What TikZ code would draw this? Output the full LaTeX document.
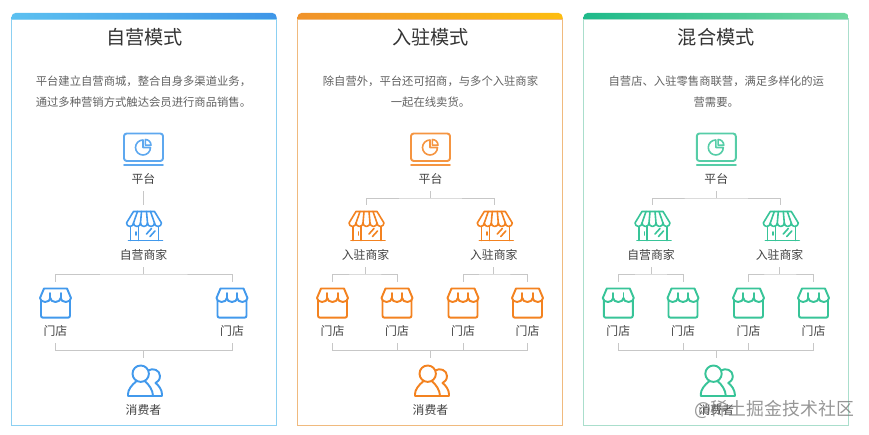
\documentclass[tikz,border=0pt]{standalone}
\usepackage{fontspec}
\setmainfont{Noto Sans CJK SC}
\usepackage{xcolor}
\usepackage{tikz}
\definecolor{csblue}{RGB}{66,153,236}
\definecolor{csorange}{RGB}{243,130,32}
\definecolor{csgreen}{RGB}{56,196,152}
\definecolor{edgeblue}{RGB}{140,208,242}
\definecolor{edgeorange}{RGB}{240,186,126}
\definecolor{edgegreen}{RGB}{170,222,204}
\definecolor{barblueL}{RGB}{92,192,240}
\definecolor{barblueR}{RGB}{62,150,232}
\definecolor{barorangeL}{RGB}{240,146,42}
\definecolor{barorangeR}{RGB}{253,189,16}
\definecolor{bargreenL}{RGB}{31,186,138}
\definecolor{bargreenR}{RGB}{112,216,160}
\tikzset{
  icon/.style={draw=#1, line width=1.2pt, line join=round, line cap=round},
  iconb/.style={draw=#1, line width=1.45pt, line join=round, line cap=round},
  link/.style={draw=black!22, line width=0.7pt},
  headline/.style={font=\fontsize{14.4}{16}\selectfont, text=black!80, inner sep=0pt},
  blurb/.style={font=\fontsize{8.5}{15.75}\selectfont, text=black!62, align=center, inner sep=0pt},
  lbl/.style={font=\fontsize{8.9}{10}\selectfont, text=black!75, inner sep=0pt, minimum height=18pt},
  pics/platicon/.style={code={
    \draw[iconb=#1, opacity=.85, rounded corners=2pt] (-19.5,-12) rectangle (19.5,15.5);
    \draw[iconb=#1, opacity=.85] (-19.5,-16) -- (19.5,-16);
    \draw[icon=#1, opacity=.85] (-0.5,1.5) -- (-0.5,9) arc (90:360:7.5) -- cycle;
    \draw[icon=#1, opacity=.85] (1.8,3.8) -- (1.8,9.5) arc (90:0:5.7) -- cycle;
  }},
  pics/shopicon/.style={code={
    \coordinate (-top) at (0,21);
    \draw[icon=#1] (-10,14.5) -- (11,14.5) -- (18,3) arc (360:180:3.5) arc (360:180:3.5) arc (360:180:3.5) arc (360:180:3.5) arc (360:180:3.5) -- cycle;
    \draw[icon=#1] (-6,14.5) -- (-10,3) (-2,14.5) -- (-3,3) (3,14.5) -- (4,3) (7,14.5) -- (11,3);
    \draw[icon=#1] (-13,-1) -- (-13,-14.5) (15,-1) -- (15,-14.5) (-15,-14.5) -- (19,-14.5);
    \draw[icon=#1] (-5,0) -- (-5,-14.5) (-7.5,-6) -- (-7.5,-9);
    \draw[icon=#1] (3,-8) -- (8,-2.5) (6.5,-10.5) -- (11.5,-5);
  }},
  pics/storeicon/.style={code={
    \coordinate (-top) at (0,21);
    \draw[iconb=#1] (-15.5,5) -- (-11.5,14.5) -- (11.5,14.5) -- (15.5,5) arc (360:180:5.17 and 4) arc (360:180:5.17 and 4) arc (360:180:5.17 and 4);
    \draw[iconb=#1] (-5.2,5) -- (-5.2,10) (5.2,5) -- (5.2,10);
    \draw[iconb=#1, rounded corners=1.5pt] (-14.5,3) -- (-14.5,-14.7) -- (14.5,-14.7) -- (14.5,3);
  }},
  pics/peopleicon/.style={code={
    \coordinate (-top) at (0,22.7);
    \draw[iconb=#1] (-2.8,7.3) circle (8.2);
    \draw[iconb=#1] (-6.8,0) .. controls (-12,-4) and (-15.5,-9) .. (-15.5,-13) -- (-15.5,-15) -- (9.5,-15) .. controls (9.5,-9) and (5,-3) .. (1.2,0);
    \draw[iconb=#1] (4.8,10.5) .. controls (9,13.5) and (16.5,11) .. (16.5,5) .. controls (16.5,1) and (14,-1) .. (12,-2) .. controls (15,-4) and (18.5,-9) .. (18.5,-13) -- (18.5,-15) -- (9.5,-15);
  }},
}
\begin{document}
\begin{tikzpicture}[x=0.75pt,y=0.75pt]
  \useasboundingbox (0,0) rectangle (869,435);
  % cards
  \draw[edgeblue, line width=.8pt] (11.5,9.5) rectangle (276.5,416);
  \shade[left color=barblueL, right color=barblueR] (11.5,416) [rounded corners=3pt] -- (11.5,422) -- (276.5,422) [sharp corners] -- (276.5,416) -- cycle;
  \draw[edgeorange, line width=.8pt] (297.5,9.5) rectangle (562.5,416);
  \shade[left color=barorangeL, right color=barorangeR] (297.5,416) [rounded corners=3pt] -- (297.5,422) -- (562.5,422) [sharp corners] -- (562.5,416) -- cycle;
  \draw[edgegreen, line width=.8pt] (583.5,9.5) rectangle (848.5,416);
  \shade[left color=bargreenL, right color=bargreenR] (583.5,416) [rounded corners=3pt] -- (583.5,422) -- (848.5,422) [sharp corners] -- (848.5,416) -- cycle;
  % self-run
  \node[headline] (titleA) at (144.5,398) {自营模式};
  \node[blurb] (textA) at (143.5,343.5) {平台建立自营商城，整合自身多渠道业务，\\通过多种营销方式触达会员进行商品销售。};
  \pic (platA) at (143.5,286) {platicon=csblue};
  \node[lbl] (lblPlatA) at (143.5,256) {平台};
  \pic (shopA) at (143.5,209) {shopicon=csblue};
  \node[lbl] (lblShopA) at (143.5,180) {自营商家};
  \pic (storeA1) at (55.5,132) {storeicon=csblue};
  \node[lbl] (lblStoreA1) at (55.5,104) {门店};
  \pic (storeA2) at (232,132) {storeicon=csblue};
  \node[lbl] (lblStoreA2) at (232,104) {门店};
  \pic (peopleA) at (143.5,54) {peopleicon=csblue};
  \node[lbl] (lblPeopleA) at (143.5,25) {消费者};
  \coordinate (barA1) at (143.5,161);
  \coordinate (barA2) at (143.5,84.7);
  \draw[link] (lblPlatA.south) -- (shopA-top);
  \draw[link] (lblShopA.south) -- (barA1);
  \draw[link] (storeA1-top) |- (barA1) -| (storeA2-top);
  \draw[link] (lblStoreA1.south) |- (barA2) -| (lblStoreA2.south);
  \draw[link] (barA2) -- (peopleA-top);
  % tenant
  \node[headline] (titleB) at (430.5,398) {入驻模式};
  \node[blurb] (textB) at (430.5,343.5) {除自营外，平台还可招商，与多个入驻商家\\一起在线卖货。};
  \pic (platB) at (430.5,286) {platicon=csorange};
  \node[lbl] (lblPlatB) at (430.5,256) {平台};
  \pic (shopB1) at (366,209) {shopicon=csorange};
  \node[lbl] (lblShopB1) at (365.5,180) {入驻商家};
  \pic (shopB2) at (494.3,209) {shopicon=csorange};
  \node[lbl] (lblShopB2) at (493.8,180) {入驻商家};
  \pic (storeB1) at (332.5,132) {storeicon=csorange};
  \node[lbl] (lblStoreB1) at (332.5,104) {门店};
  \pic (storeB2) at (397,132) {storeicon=csorange};
  \node[lbl] (lblStoreB2) at (397,104) {门店};
  \pic (storeB3) at (463,132) {storeicon=csorange};
  \node[lbl] (lblStoreB3) at (463,104) {门店};
  \pic (storeB4) at (527.5,132) {storeicon=csorange};
  \node[lbl] (lblStoreB4) at (527.5,104) {门店};
  \pic (peopleB) at (430.5,54) {peopleicon=csorange};
  \node[lbl] (lblPeopleB) at (430.5,25) {消费者};
  \coordinate (barB0) at (430.5,237);
  \coordinate (barB1) at (365.5,161);
  \coordinate (barB2) at (493.8,161);
  \coordinate (barB3) at (430.5,84.7);
  \draw[link] (lblPlatB.south) -- (barB0);
  \draw[link] (shopB1-top) |- (barB0) -| (shopB2-top);
  \draw[link] (lblShopB1.south) -- (barB1);
  \draw[link] (storeB1-top) |- (barB1) -| (storeB2-top);
  \draw[link] (lblShopB2.south) -- (barB2);
  \draw[link] (storeB3-top) |- (barB2) -| (storeB4-top);
  \draw[link] (lblStoreB1.south) |- (barB3) -| (lblStoreB4.south);
  \draw[link] (lblStoreB2.south) |- (barB3);
  \draw[link] (lblStoreB3.south) |- (barB3);
  \draw[link] (barB3) -- (peopleB-top);
  % mixed
  \node[headline] (titleC) at (716.3,398) {混合模式};
  \node[blurb] (textC) at (716.3,343.5) {自营店、入驻零售商联营，满足多样化的运\\营需要。};
  \pic (platC) at (716.3,286) {platicon=csgreen};
  \node[lbl] (lblPlatC) at (716.3,256) {平台};
  \pic (shopC1) at (652,209) {shopicon=csgreen};
  \node[lbl] (lblShopC1) at (651,180) {自营商家};
  \pic (shopC2) at (780.3,209) {shopicon=csgreen};
  \node[lbl] (lblShopC2) at (779.5,180) {入驻商家};
  \pic (storeC1) at (618.3,132) {storeicon=csgreen};
  \node[lbl] (lblStoreC1) at (618.3,104) {门店};
  \pic (storeC2) at (683,132) {storeicon=csgreen};
  \node[lbl] (lblStoreC2) at (683,104) {门店};
  \pic (storeC3) at (748.5,132) {storeicon=csgreen};
  \node[lbl] (lblStoreC3) at (748.5,104) {门店};
  \pic (storeC4) at (813.5,132) {storeicon=csgreen};
  \node[lbl] (lblStoreC4) at (813.5,104) {门店};
  \pic (peopleC) at (716.3,54) {peopleicon=csgreen};
  \node[lbl] (lblPeopleC) at (716.3,25) {消费者};
  \coordinate (barC0) at (716.3,237);
  \coordinate (barC1) at (651,161);
  \coordinate (barC2) at (779.5,161);
  \coordinate (barC3) at (716.3,84.7);
  \draw[link] (lblPlatC.south) -- (barC0);
  \draw[link] (shopC1-top) |- (barC0) -| (shopC2-top);
  \draw[link] (lblShopC1.south) -- (barC1);
  \draw[link] (storeC1-top) |- (barC1) -| (storeC2-top);
  \draw[link] (lblShopC2.south) -- (barC2);
  \draw[link] (storeC3-top) |- (barC2) -| (storeC4-top);
  \draw[link] (lblStoreC1.south) |- (barC3) -| (lblStoreC4.south);
  \draw[link] (lblStoreC2.south) |- (barC3);
  \draw[link] (lblStoreC3.south) |- (barC3);
  \draw[link] (barC3) -- (peopleC-top);
  \node[font=\fontsize{13.4}{15}\selectfont, text=black!55, opacity=.75, inner sep=0pt] (mark) at (774,26) {@稀土掘金技术社区};
\end{tikzpicture}
\end{document}
